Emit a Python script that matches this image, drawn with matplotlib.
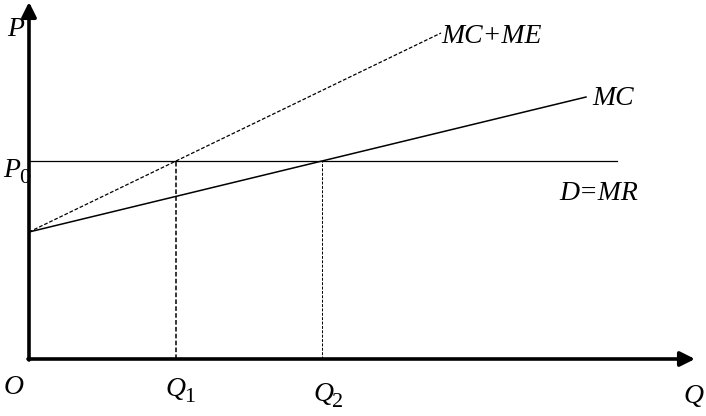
import matplotlib
matplotlib.use("Agg")
import matplotlib.pyplot as plt

# values in diagram units (origin at O)
intercept = 127
p0 = 198
q1 = 147
q2 = 293
mc_end = 557
mcme_end = 412
d_end = 588
x_max = 666
y_max = 357

mc_slope = (p0 - intercept) / q2
mcme_slope = (p0 - intercept) / q1

fig = plt.figure(figsize=(7.06, 4.16), dpi=100)
ax = fig.add_axes([0, 0, 1, 1])
ax.set_xlim(-29, 677)
ax.set_ylim(-57, 359)
ax.axis("off")

# axes with arrows
arrow = dict(arrowstyle="-|>", lw=2.6, mutation_scale=22, color="black",
             shrinkA=0, shrinkB=0)
ax.annotate("", xy=(x_max, 0), xytext=(-1, 0), arrowprops=arrow)
ax.annotate("", xy=(0, y_max), xytext=(0, -1), arrowprops=arrow)

# curves
ax.plot([0, mc_end], [intercept, intercept + mc_slope * mc_end], color="black", lw=1.1)
ax.plot([0, mcme_end], [intercept, intercept + mcme_slope * mcme_end],
        color="black", lw=0.9, dashes=(3, 1.5))
ax.plot([0, d_end], [p0, p0], color="black", lw=0.9)
ax.plot([q1, q1], [0, p0], color="black", lw=1.1, dashes=(3, 1.5))
ax.plot([q2, q2], [0, p0], color="black", lw=0.7, dashes=(3, 1.5))

fs = 20
it = dict(fontsize=fs, family="Liberation Serif", style="italic", va="baseline")
rm = dict(fontsize=16, family="Liberation Serif", va="baseline", ha="left")

def label(x, y, base, sub=None, ha="left"):
    t = ax.text(x, y, base, ha=ha, **it)
    if sub:
        # subscript just right of the base letter, a little below its baseline
        ax.annotate(sub, xy=(1, y), xycoords=(t, "data"),
                    xytext=(-1, -6), textcoords="offset pixels", **rm)

label(-22, 323, "P")
label(-26, 182, "P", "0")
label(-25, -35, "O")
label(136, -37, "Q", "1")
label(284, -42, "Q", "2")
label(654, -44, "Q")
label(463, 316, "MC+ME", ha="center")
label(584, 254, "MC", ha="center")
label(570, 159, "D=MR", ha="center")

fig.savefig("out.png", dpi=100)
